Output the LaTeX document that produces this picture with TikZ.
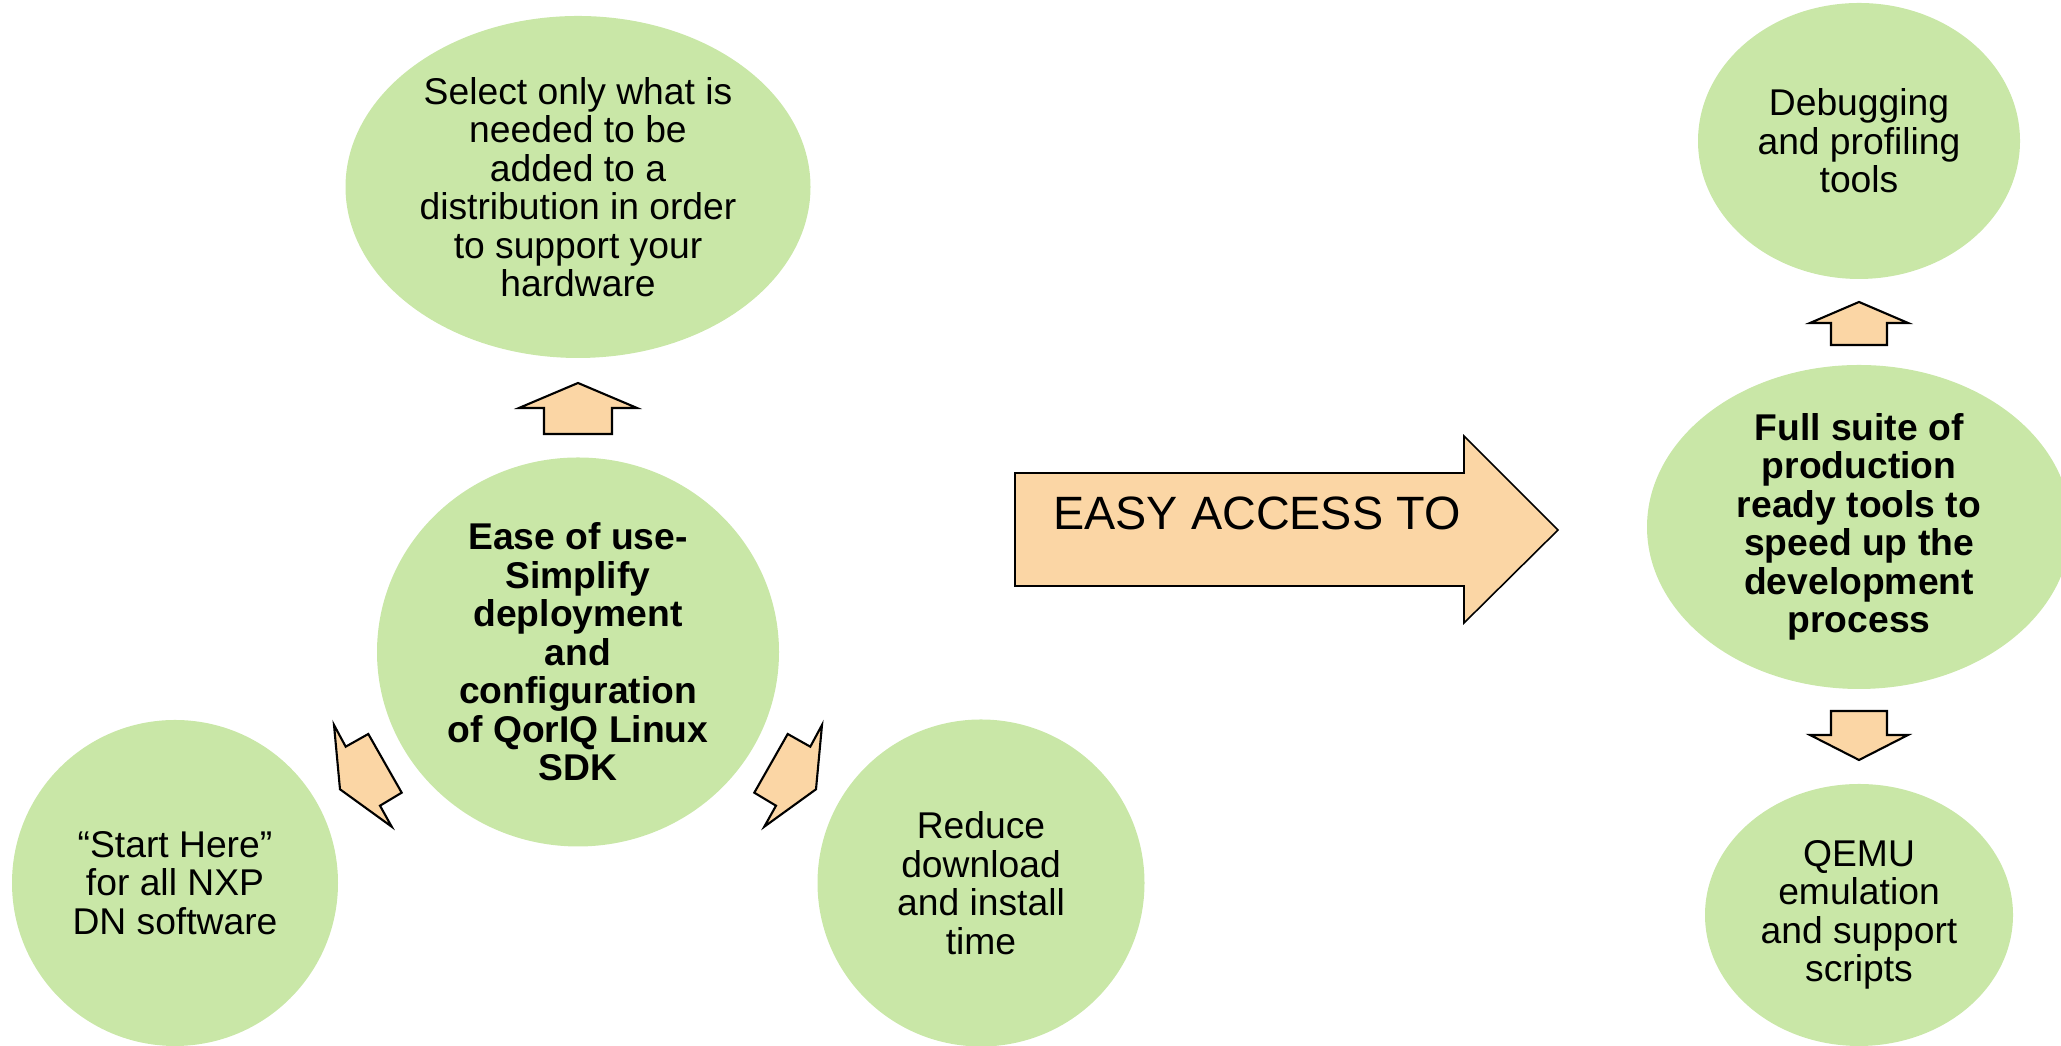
\documentclass[tikz,border=0pt]{standalone}
\usepackage{fontspec}
\setmainfont{Liberation Sans}
\usepackage{tikz}
\usetikzlibrary{shapes.geometric}
\definecolor{bubblegreen}{RGB}{201,231,167}
\definecolor{arroworange}{RGB}{251,214,165}
\tikzset{
  bubble/.style={ellipse,fill=bubblegreen,inner sep=0pt,align=center,
    font=\fontsize{10.6}{10.95}\selectfont},
  keybubble/.style={bubble,font=\fontsize{10.6}{10.95}\selectfont\bfseries},
  blockarrow/.style={draw=black,fill=arroworange,line width=0.6pt,line join=miter},
}

\begin{document}
\begin{tikzpicture}
    \useasboundingbox (0,0) rectangle (20.61,10.46);
    \clip (0,0) rectangle (20.61,10.46);
    % left group
    \node[bubble,minimum width=4.65cm,minimum height=3.42cm] (select) at (5.78,8.59) {Select only what is\\needed to be\\added to a\\distribution in order\\to support your\\hardware};
    \node[keybubble,minimum width=4.02cm,minimum height=3.89cm] (ease) at (5.78,3.94) {Ease of use-\\Simplify\\deployment\\and\\configuration\\of QorIQ Linux\\SDK};
    \node[bubble,minimum width=3.26cm,minimum height=3.26cm] (start) at (1.75,1.63) {“Start Here”\\for all NXP\\DN software};
    \node[bubble,minimum width=3.27cm,minimum height=3.27cm] (reduce) at (9.81,1.63) {Reduce\\download\\and install\\time};
    \draw[blockarrow] (5.78,6.63) -- (6.37,6.38) -- (6.12,6.38) -- (6.12,6.12) -- (5.44,6.12) -- (5.44,6.38) -- (5.19,6.38) -- cycle;
    \draw[blockarrow] (3.34,3.21) -- (3.457,2.993) -- (3.683,3.12) -- (4.017,2.533) -- (3.80,2.403) -- (3.917,2.193) -- (3.40,2.567) -- cycle;
    \draw[blockarrow] (8.22,3.21) -- (8.103,2.993) -- (7.877,3.12) -- (7.543,2.533) -- (7.76,2.403) -- (7.643,2.193) -- (8.16,2.567) -- cycle;
    % big arrow
    \draw[blockarrow,line width=0.45pt] (10.15,5.73) -- (14.64,5.73) -- (14.64,6.10) -- (15.58,5.16) -- (14.64,4.23) -- (14.64,4.60) -- (10.15,4.60) -- cycle;
    \node[anchor=base west,font=\fontsize{13.3}{15}\selectfont] (access) at (10.41,5.16) {EASY ACCESS TO};
    % right group
    \node[bubble,minimum width=3.22cm,minimum height=2.76cm] (debug) at (18.59,9.05) {Debugging\\and profiling\\tools};
    \node[keybubble,minimum width=4.24cm,minimum height=3.24cm] (suite) at (18.59,5.19) {Full suite of\\production\\ready tools to\\speed up the\\development\\process};
    \node[bubble,minimum width=3.08cm,minimum height=2.62cm] (qemu) at (18.59,1.31) {QEMU\\emulation\\and support\\scripts};
    \draw[blockarrow] (18.59,7.44) -- (19.08,7.23) -- (18.87,7.23) -- (18.87,7.01) -- (18.31,7.01) -- (18.31,7.23) -- (18.10,7.23) -- cycle;
    \draw[blockarrow] (18.59,2.86) -- (19.08,3.11) -- (18.87,3.11) -- (18.87,3.35) -- (18.31,3.35) -- (18.31,3.11) -- (18.10,3.11) -- cycle;
\end{tikzpicture}
\end{document}
